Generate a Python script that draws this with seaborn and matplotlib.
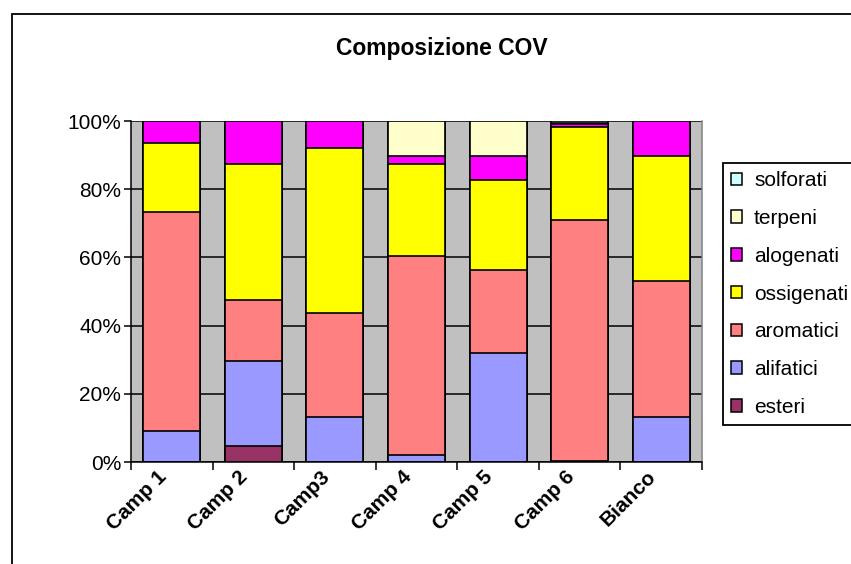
import numpy as np
import pandas as pd
import matplotlib
matplotlib.use("Agg")
import matplotlib.pyplot as plt
import matplotlib.transforms as mtransforms
from matplotlib.patches import Patch, Rectangle
import seaborn as sns

# Sample names and VOC class shares (% of total)
categories = ["Camp 1", "Camp 2", "Camp3", "Camp 4", "Camp 5", "Camp 6", "Bianco"]
esteri     = [0.0, 4.6, 0.0, 0.0, 0.0, 0.0, 0.0]
alifatici  = [9.2, 25.0, 13.2, 2.1, 32.0, 0.3, 13.2]
aromatici  = [64.1, 18.0, 30.5, 58.2, 24.2, 70.8, 39.8]
ossigenati = [20.3, 39.9, 48.4, 27.1, 26.6, 27.1, 36.6]
alogenati  = [6.4, 12.5, 7.9, 2.2, 6.8, 0.8, 10.4]
terpeni    = [0.0, 0.0, 0.0, 10.4, 10.4, 0.5, 0.0]
solforati  = [0.0, 0.0, 0.0, 0.0, 0.0, 0.5, 0.0]

series_names = ["esteri", "alifatici", "aromatici", "ossigenati", "alogenati", "terpeni", "solforati"]
series_vals = [esteri, alifatici, aromatici, ossigenati, alogenati, terpeni, solforati]
series_colors = ["#993366", "#9999FF", "#FF8080", "#FFFF00", "#FF00FF", "#FFFFCC", "#CCFFFF"]

y_ticks = [0, 20, 40, 60, 80, 100]
y_labels = ["0%", "20%", "40%", "60%", "80%", "100%"]

sns.set_style("white")
plt.rcParams["font.family"] = ["Liberation Sans", "DejaVu Sans"]
plt.rcParams["text.color"] = "black"
plt.rcParams["xtick.color"] = "black"
plt.rcParams["ytick.color"] = "black"
plt.rcParams["xtick.labelcolor"] = "black"
plt.rcParams["ytick.labelcolor"] = "black"

W, H = 851, 564
fig = plt.figure(figsize=(W / 100, H / 100), dpi=100)
fig.patch.set_facecolor("white")

# outer chart frame
fig.patches.append(Rectangle((12 / W, -0.05), 1.2, 1 - 14 / H + 0.05,
                             transform=fig.transFigure, fill=False,
                             edgecolor="black", linewidth=1.3, zorder=0))

ax = fig.add_axes([131 / W, 1 - 462 / H, (702 - 131) / W, (462 - 121) / H])
ax.set_facecolor("#C0C0C0")

# stacked bars: draw cumulative totals from the top down so each layer covers the next
df = pd.DataFrame(dict(zip(series_names, series_vals)), index=categories)
cum = df.cumsum(axis=1)
for name, color in reversed(list(zip(series_names, series_colors))):
    sns.barplot(x=categories, y=cum[name].values, color=color, saturation=1,
                width=0.7, edgecolor="black", linewidth=1.2, ax=ax, zorder=3)

ax.set_ylim(0, 100)
ax.set_xlim(-0.5, len(categories) - 0.5)
ax.set_yticks(y_ticks)
ax.set_yticklabels(y_labels, fontsize=15, color="black")
ax.yaxis.grid(True, color="black", linewidth=1.1, zorder=1)
ax.xaxis.grid(False)
ax.set_axisbelow(True)
ax.set_xlabel("")
ax.set_ylabel("")

ax.tick_params(axis="y", which="major", direction="out", length=5, width=1.1,
               color="black", pad=2, left=True)
ax.set_xticks(range(len(categories)))
ax.set_xticklabels(categories, fontsize=15, fontweight="bold", rotation=45,
                   ha="right", rotation_mode="anchor", color="black")
ax.set_xticks(np.arange(-0.5, len(categories), 1.0), minor=True)
ax.tick_params(axis="x", which="major", length=0, pad=4)
ax.tick_params(axis="x", which="minor", direction="out", length=6, width=1.1,
               color="black", bottom=True)
shift = mtransforms.ScaledTranslation(-15 / 100, 0, fig.dpi_scale_trans)
for lab in ax.get_xticklabels():
    lab.set_transform(lab.get_transform() + shift)

for side in ["left", "bottom"]:
    ax.spines[side].set_color("black")
    ax.spines[side].set_linewidth(1.1)
ax.spines["top"].set_visible(False)
ax.spines["right"].set_color("#808080")
ax.spines["right"].set_linewidth(1.1)

fig.text(442 / W, 1 - 48 / H, "Composizione COV", ha="center", va="center",
         fontsize=16.5, fontweight="bold", color="black")

handles = [Patch(facecolor=c, edgecolor="black", linewidth=1.1)
           for c in reversed(series_colors)]
leg = fig.legend(handles, list(reversed(series_names)), loc="upper left",
                 bbox_to_anchor=(722.7 / W, 1 - 163 / H), fontsize=15,
                 frameon=True, fancybox=False, shadow=False, framealpha=1,
                 borderpad=0.4, labelspacing=0.9, handlelength=0.55,
                 handleheight=0.55, handletextpad=0.55, borderaxespad=0,
                 labelcolor="black")
leg.get_frame().set_edgecolor("black")
leg.get_frame().set_linewidth(1.3)

fig.savefig("out.png", dpi=100)
